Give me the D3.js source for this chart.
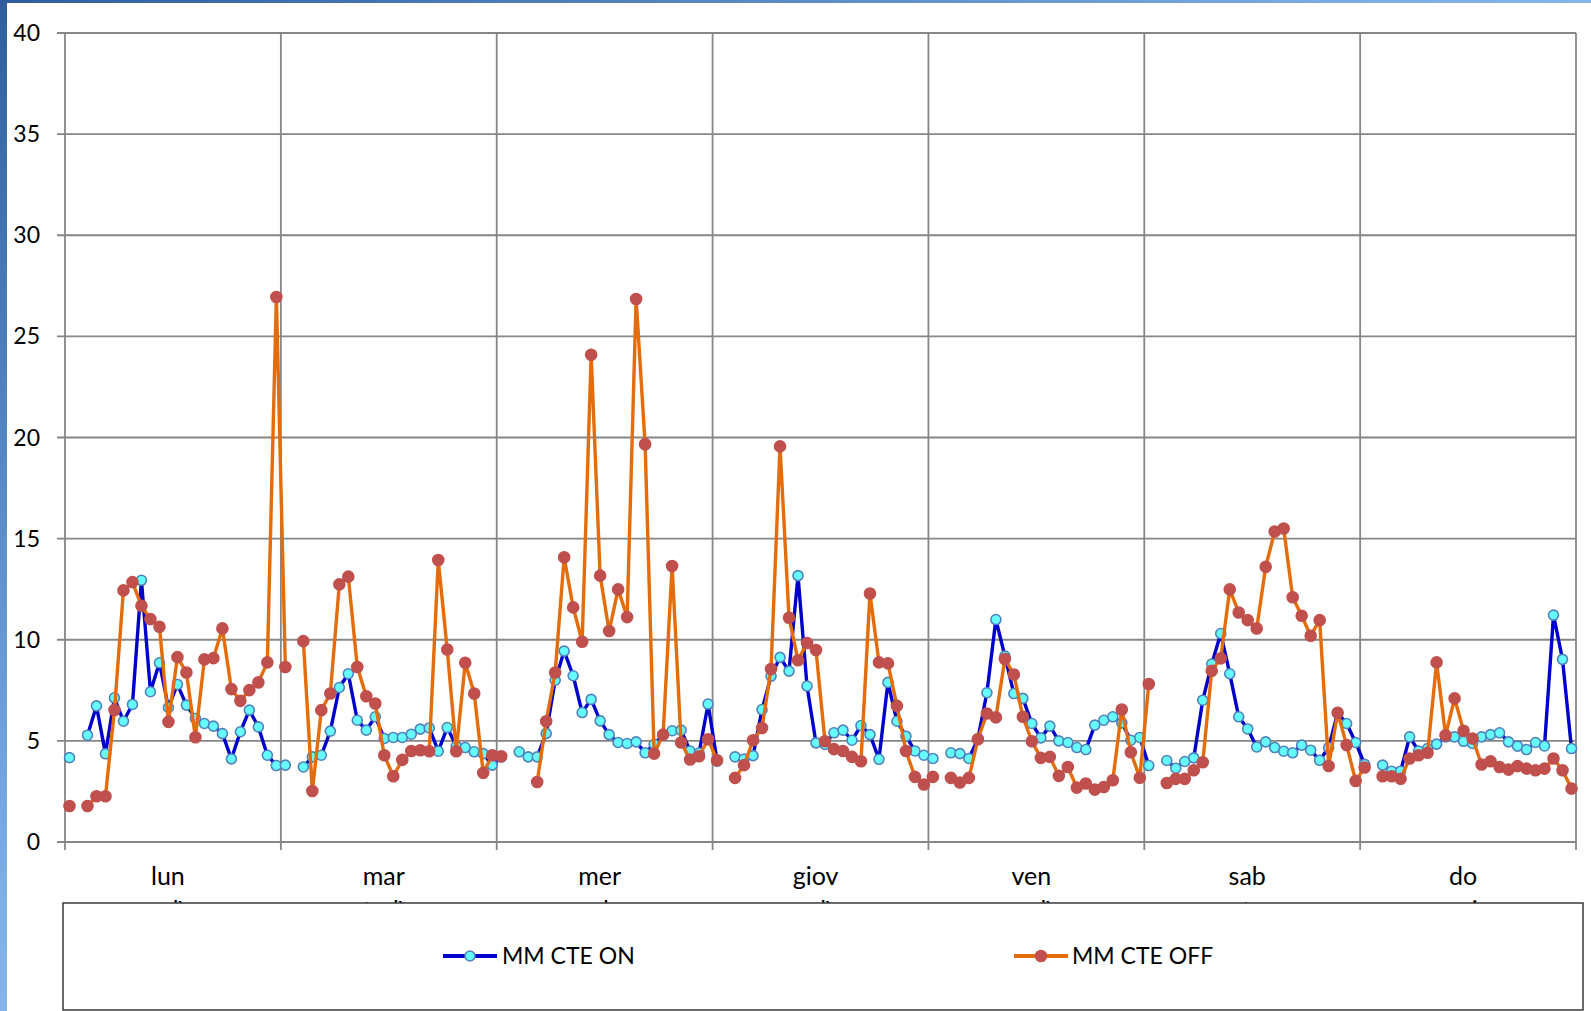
<!DOCTYPE html>
<html><head><meta charset="utf-8">
<script src="https://cdn.jsdelivr.net/npm/d3@7"></script>
<style>html,body{margin:0;padding:0;background:#fff;overflow:hidden}</style>
</head><body>
<svg id="chart" width="1591" height="1011"></svg>
<script>
// ---- data ----
const days = ["lun", "mar", "mer", "giov", "ven", "sab", "do"];
const daysSecondLine = ["edì", "tedì", "cole", "edì", "erdì", "ato", "menica"];
const hoursPerDay = 24;
const yTicks = [0, 5, 10, 15, 20, 25, 30, 35, 40];
const seriesNames = ["MM CTE ON", "MM CTE OFF"];

const mmCteOn = [
  // lun
  4.17, null, 5.28, 6.73, 4.36, 7.13, 5.97, 6.80, 12.94, 7.43, 8.86, 6.65, 7.79, 6.77, 6.11, 5.86, 5.73, 5.36, 4.11, 5.45, 6.52, 5.69, 4.29, 3.78,
  // mar
  3.80, null, 3.71, 4.21, 4.29, 5.48, 7.64, 8.32, 6.02, 5.53, 6.19, 5.12, 5.17, 5.17, 5.33, 5.58, 5.64, 4.49, 5.66, 4.74, 4.67, 4.46, 4.37, 3.80,
  // mer
  4.20, null, 4.46, 4.21, 4.21, 5.37, 8.00, 9.44, 8.22, 6.40, 7.05, 5.99, 5.31, 4.92, 4.87, 4.95, 4.41, 4.83, 5.30, 5.50, 5.53, 4.50, 4.40, 6.82,
  // giov
  4.00, null, 4.21, 4.10, 4.27, 6.55, 8.20, 9.13, 8.45, 13.17, 7.71, 4.90, 4.82, 5.40, 5.53, 5.03, 5.76, 5.31, 4.09, 7.89, 5.97, 5.23, 4.50, 4.29,
  // ven
  4.13, null, 4.41, 4.37, 4.13, 5.10, 7.38, 11.00, 9.19, 7.34, 7.10, 5.86, 5.15, 5.73, 5.00, 4.92, 4.67, 4.57, 5.78, 6.02, 6.19, 5.89, 5.03, 5.17,
  // sab
  3.78, null, 4.03, 3.65, 3.98, 4.16, 7.01, 8.80, 10.31, 8.32, 6.19, 5.59, 4.70, 4.95, 4.67, 4.49, 4.41, 4.79, 4.54, 4.04, 4.67, 6.40, 5.86, 4.92,
  // do
  3.84, null, 3.80, 3.50, 3.50, 5.20, 4.50, 4.62, 4.84, 5.20, 5.20, 4.98, 4.87, 5.20, 5.31, 5.40, 4.95, 4.74, 4.57, 4.92, 4.75, 11.22, 9.03, 4.62
];

const mmCteOff = [
  // lun
  1.78, null, 1.78, 2.26, 2.26, 6.53, 12.44, 12.85, 11.68, 11.02, 10.64, 5.94, 9.14, 8.38, 5.18, 9.03, 9.09, 10.56, 7.56, 6.98, 7.51, 7.89, 8.88, 26.95,
  // mar
  8.65, null, 9.93, 2.52, 6.52, 7.34, 12.74, 13.12, 8.65, 7.21, 6.85, 4.29, 3.25, 4.06, 4.50, 4.54, 4.49, 13.94, 9.52, 4.49, 8.86, 7.34, 3.42, 4.29,
  // mer
  4.24, null, null, null, 2.97, 5.97, 8.38, 14.08, 11.60, 9.90, 24.09, 13.17, 10.43, 12.49, 11.12, 26.85, 19.67, 4.37, 5.31, 13.65, 4.92, 4.08, 4.24, 5.08,
  // giov
  4.04, null, 3.17, 3.80, 5.03, 5.64, 8.55, 19.56, 11.09, 8.99, 9.84, 9.49, 4.98, 4.59, 4.50, 4.21, 3.99, 12.29, 8.88, 8.83, 6.73, 4.50, 3.22, 2.84,
  // ven
  3.22, null, 3.17, 2.94, 3.17, 5.08, 6.35, 6.16, 9.05, 8.28, 6.19, 4.98, 4.16, 4.21, 3.27, 3.71, 2.69, 2.89, 2.59, 2.72, 3.05, 6.55, 4.44, 3.18,
  // sab
  7.81, null, 2.92, 3.12, 3.12, 3.55, 3.94, 8.47, 9.08, 12.49, 11.35, 10.97, 10.56, 13.61, 15.35, 15.50, 12.10, 11.19, 10.20, 10.97, 3.76, 6.39, 4.79, 3.02,
  // do
  3.68, null, 3.25, 3.25, 3.13, 4.13, 4.29, 4.41, 8.88, 5.28, 7.10, 5.50, 5.12, 3.83, 3.99, 3.71, 3.58, 3.75, 3.63, 3.55, 3.63, 4.13, 3.55, 2.64
];

// ---- drawing ----
(function () {
  const W = 1591, H = 1011;
  const svg = d3.select("#chart");
  const FONT = "Lato, 'Liberation Sans', Arial, sans-serif";

  // slide-like background frame
  const defs = svg.append("defs");
  const grad = defs.append("linearGradient").attr("id", "bg").attr("x1", "0").attr("y1", "0").attr("x2", "1").attr("y2", "1");
  grad.append("stop").attr("offset", "0%").attr("stop-color", "#2f5e9e");
  grad.append("stop").attr("offset", "45%").attr("stop-color", "#7fb0e6");
  grad.append("stop").attr("offset", "100%").attr("stop-color", "#b4d8fb");
  svg.append("rect").attr("width", W).attr("height", H).attr("fill", "url(#bg)");
  svg.append("rect").attr("x", 7).attr("y", 3).attr("width", W - 7).attr("height", H - 3).attr("fill", "#fff");

  const pLeft = 65, pRight = 1576, pTop = 33, pBottom = 842;
  const idx = d3.range(mmCteOn.length);
  const x = d3.scaleBand().domain(idx).range([pLeft, pRight]).padding(0);
  const y = d3.scaleLinear().domain([0, 40]).range([pBottom, pTop]);
  const cx = i => x(i) + x.bandwidth() / 2;

  const gridColor = "#868686";
  const g = svg.append("g");

  // horizontal gridlines (with tick stubs)
  g.selectAll("line.h").data(yTicks).join("line")
    .attr("x1", pLeft - 8).attr("x2", pRight)
    .attr("y1", d => y(d)).attr("y2", d => y(d))
    .attr("stroke", gridColor).attr("stroke-width", 1.8);

  // vertical gridlines at day boundaries
  const dayStarts = d3.range(days.length + 1).map(d => d * hoursPerDay);
  g.selectAll("line.v").data(dayStarts).join("line")
    .attr("x1", d => d < idx.length ? x(d) : pRight)
    .attr("x2", d => d < idx.length ? x(d) : pRight)
    .attr("y1", pTop).attr("y2", pBottom + 8)
    .attr("stroke", gridColor).attr("stroke-width", 1.8);

  // y labels
  g.selectAll("text.yl").data(yTicks).join("text")
    .attr("x", 40).attr("y", d => y(d)).attr("dy", "0.35em")
    .attr("text-anchor", "end").attr("font-family", FONT).attr("font-size", 23)
    .attr("fill", "#000").text(d => d);

  // day labels
  const dayCenter = d => (x(d * hoursPerDay) + (d + 1 < days.length ? x((d + 1) * hoursPerDay) : pRight)) / 2 - 5;
  g.selectAll("text.dl").data(days).join("text")
    .attr("x", (d, i) => dayCenter(i)).attr("y", 885)
    .attr("text-anchor", "middle").attr("font-family", FONT).attr("font-size", 25)
    .attr("fill", "#000").text(d => d);
  g.selectAll("text.dl2").data(daysSecondLine).join("text")
    .attr("x", (d, i) => dayCenter(i)).attr("y", 919)
    .attr("text-anchor", "middle").attr("font-family", FONT).attr("font-size", 25)
    .attr("fill", "#000").text(d => d);

  // series
  const series = [
    { name: seriesNames[0], values: mmCteOn, line: "#0000cc", fill: "#66ffff", stroke: "#4f81bd", r: 5 },
    { name: seriesNames[1], values: mmCteOff, line: "#e46c0a", fill: "#c0504d", stroke: "#c0504d", r: 5.5 }
  ];
  const lineGen = d3.line().defined(d => d.v != null).x(d => cx(d.i)).y(d => y(d.v));

  series.forEach(s => {
    const pts = s.values.map((v, i) => ({ i, v }));
    g.append("path").datum(pts).attr("d", lineGen)
      .attr("fill", "none").attr("stroke", s.line).attr("stroke-width", 3.4)
      .attr("stroke-linejoin", "round");
    g.append("g").selectAll("circle").data(pts.filter(d => d.v != null)).join("circle")
      .attr("cx", d => cx(d.i)).attr("cy", d => y(d.v)).attr("r", s.r)
      .attr("fill", s.fill).attr("stroke", s.stroke).attr("stroke-width", 1.6);
  });

  // legend box (covers second line of labels)
  const lg = svg.append("g");
  lg.append("rect").attr("x", 63).attr("y", 903).attr("width", 1520).attr("height", 107)
    .attr("fill", "#fff").attr("stroke", "#3a3a3a").attr("stroke-width", 1.5);
  const legendItems = [
    { s: series[0], x1: 443, x2: 497, tx: 502 },
    { s: series[1], x1: 1014, x2: 1068, tx: 1072 }
  ];
  const ly = 956;
  legendItems.forEach(it => {
    lg.append("line").attr("x1", it.x1).attr("x2", it.x2).attr("y1", ly).attr("y2", ly)
      .attr("stroke", it.s.line).attr("stroke-width", 4);
    lg.append("circle").attr("cx", (it.x1 + it.x2) / 2).attr("cy", ly).attr("r", it.s.r)
      .attr("fill", it.s.fill).attr("stroke", it.s.stroke).attr("stroke-width", 1.6);
    lg.append("text").attr("x", it.tx).attr("y", ly).attr("dy", "0.35em")
      .attr("font-family", FONT).attr("font-size", 23).attr("fill", "#000").text(it.s.name);
  });
})();
</script>
</body></html>
